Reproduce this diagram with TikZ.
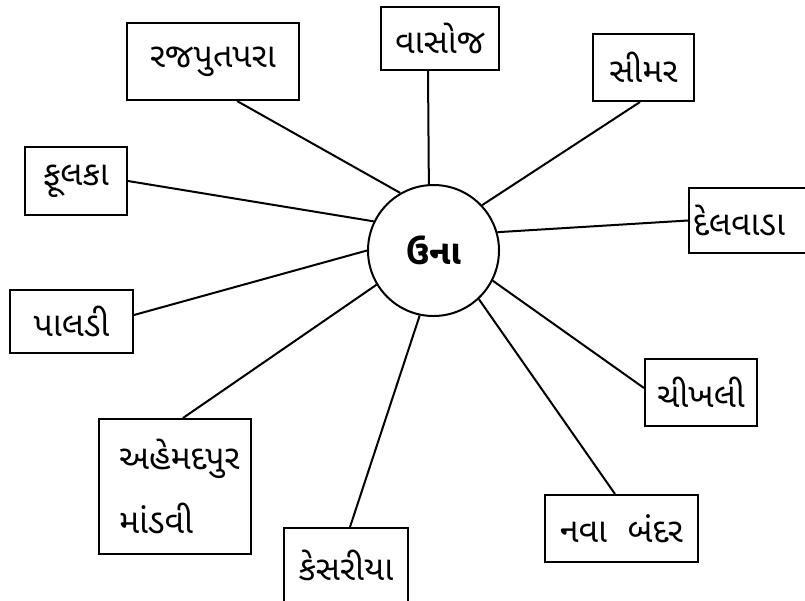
\documentclass[tikz,border=0pt]{standalone}
\usepackage{fontspec}
\newfontfamily\guj[Script=Gujarati]{Noto Sans Gujarati UI}
\begin{document}
\begin{tikzpicture}[x=1pt,y=-1pt,
  lbl/.style={font=\guj\fontsize{34}{40}\selectfont},
  boxnode/.style={lbl,draw,line width=2pt,inner sep=0pt,align=center},
  spoke/.style={line width=2pt}]
\useasboundingbox[fill=white] (0,0) rectangle (805,600);
\node[draw,circle,line width=2pt,minimum size=131pt,inner sep=0pt,
      font=\guj\bfseries\fontsize{34}{40}\selectfont] (c) at (433.5,250.5) {ઉના};
\node[boxnode,minimum width=172pt,minimum height=77pt] (raj) at (213,61.5) {રજપુતપરા};
\node[boxnode,minimum width=102pt,minimum height=68pt] (fulka) at (76,181) {ફૂલકા};
\node[boxnode,minimum width=118pt,minimum height=63pt] (vasoj) at (440,38.5) {વાસોજ};
\node[boxnode,minimum width=101pt,minimum height=67pt] (simar) at (643.5,67.5) {સીમર};
\node[boxnode,anchor=west,minimum height=65pt,inner xsep=4pt] (delv) at (688,220.5) {દેલવાડા\hspace*{50pt}};
\node[boxnode,minimum width=123pt,minimum height=63pt] (pal) at (71.5,321.5) {પાલડી};
\node[boxnode,align=left,text width=112pt,inner xsep=20pt,minimum height=135pt] (ahm) at (175,486.5) {અહેમદપુર\\[24pt]માંડવી};
\node[boxnode,minimum width=124pt,minimum height=74pt] (kes) at (346,565) {કેસરીયા};
\node[boxnode,minimum width=112pt,minimum height=67pt] (chik) at (701,392.5) {ચીખલી};
\node[boxnode,minimum width=153pt,minimum height=67pt] (nava) at (621.5,528.5) {નવા\ \ બંદર};
\draw[spoke] ([xshift=24pt]raj.south) -- (c.120.2);
\draw[spoke] (fulka.east) -- (c.154.8);
\draw[spoke] ([xshift=-12pt]vasoj.south) -- (c.94.8);
\draw[spoke] ([xshift=-3.5pt]simar.south) -- (c.43.8);
\draw[spoke] (delv.west) -- (c.16.2);
\draw[spoke] ([yshift=6.5pt]pal.east) -- (c.180);
\draw[spoke] ([xshift=8pt]ahm.north) -- (c.211.4);
\draw[spoke] ([xshift=4pt]kes.north) -- (c.258);
\draw[spoke] ([yshift=4.5pt]chik.west) -- (c.333.6);
\draw[spoke] ([xshift=-6.5pt]nava.north) -- (c.313.9);
\end{tikzpicture}
\end{document}
